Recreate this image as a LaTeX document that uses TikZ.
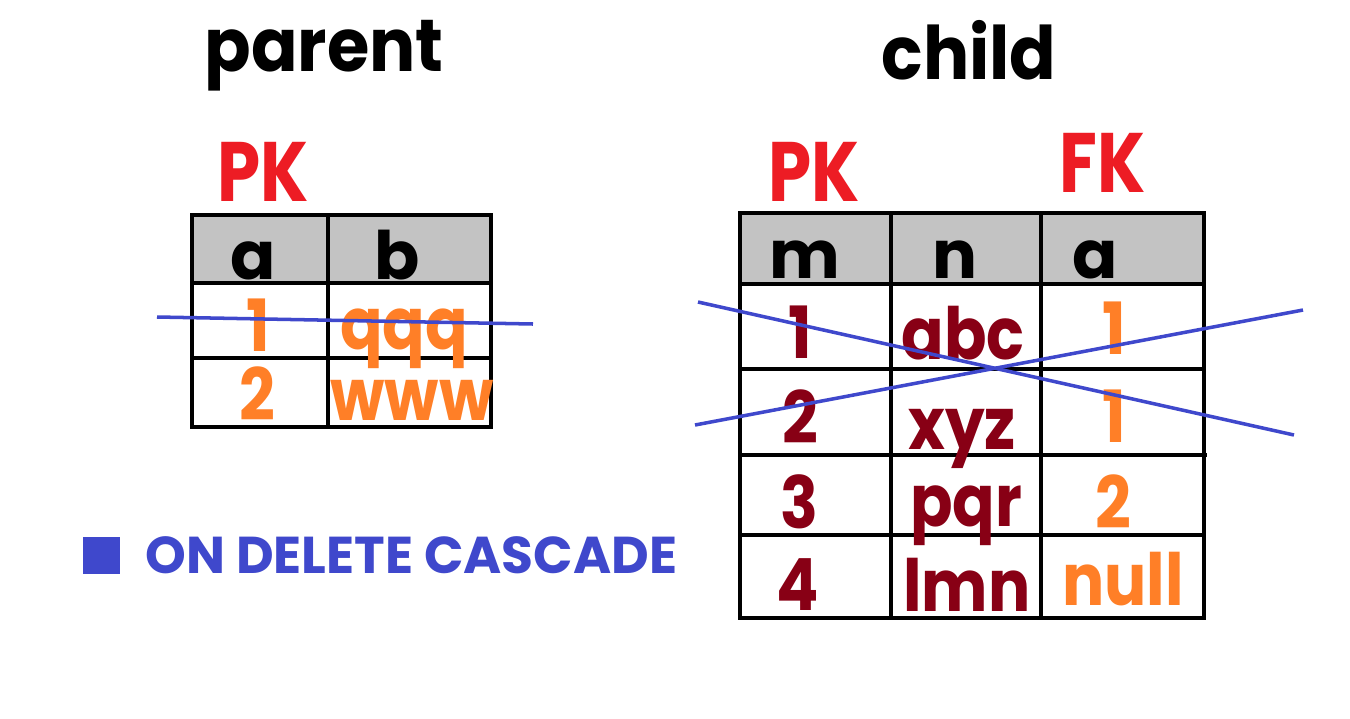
\documentclass[tikz,border=0pt]{standalone}
\usepackage{fontspec}
\setmainfont{Poppins}
\usepackage{xcolor}
\usepackage{tikz}
\definecolor{keyred}{HTML}{ED1C24}
\definecolor{valorange}{HTML}{FF7F27}
\definecolor{valdark}{HTML}{880015}
\definecolor{cascblue}{HTML}{3F48CC}
\definecolor{headgray}{HTML}{C3C3C3}

\begin{document}
\begin{tikzpicture}[x=0.02cm,y=-0.02cm,
  title/.style={anchor=base,inner sep=0pt,xscale=0.93,font=\fontsize{42}{48}\selectfont\bfseries},
  keylabel/.style={anchor=base,inner sep=0pt,xscale=0.82,text=keyred,font=\fontsize{48}{54}\selectfont\bfseries},
  colname/.style={anchor=base,inner sep=0pt,font=\fontsize{38}{44}\selectfont\bfseries},
  val/.style={anchor=base,inner sep=0pt,xscale=0.87,font=\fontsize{41}{46}\selectfont\bfseries},
  gridline/.style={line width=2.3pt},
  strike/.style={draw=cascblue,line width=2pt}]
\useasboundingbox[fill=white] (0,0) rectangle (1350,718);

% Titles
\node[title] (tparent) at (324,71) {parent};
\node[title] (tchild) at (969,79) {child};

% Key labels
\node[keylabel] (pkP) at (263,201) {PK};
\node[keylabel] (pkC) at (814,201) {PK};
\node[keylabel] (fkC) at (1103,192) {FK};

% Parent table
\fill[headgray] (192,215) rectangle (491,283);
\draw[gridline] (192,215) rectangle (491,427);
\draw[gridline] (192,283) -- (491,283);
\draw[gridline] (192,358) -- (491,358);
\draw[gridline] (328,215) -- (328,427);

\node[colname] (pa) at (253,279) {a};
\node[colname] (pb) at (397,279) {b};
\node[val,text=valorange] (p1a) at (258,351) {1};
\node[val,text=valorange] (p1b) at (404,349) {qqq};
\node[val,text=valorange] (p2a) at (257,420) {2};
\node[val,text=valorange] (p2b) at (412,420) {www};

% Child table
\fill[headgray] (740,213) rectangle (1204,284);
\draw[gridline] (740,213) rectangle (1204,618);
\draw[gridline] (740,284) -- (1204,284);
\draw[gridline] (740,369) -- (1204,369);
\draw[gridline] (740,455) -- (1207,455);
\draw[gridline] (740,535) -- (1204,535);
\draw[gridline] (891,213) -- (891,618);
\draw[gridline] (1041,213) -- (1041,618);

\node[colname] (cm) at (805,278) {m};
\node[colname] (cn) at (955,278) {n};
\node[colname] (ca) at (1095,278) {a};

\node[val,text=valdark] (c1m) at (800,358) {1};
\node[val,text=valdark] (c1n) at (963,359) {abc};
\node[val,text=valorange] (c1a) at (1114,354) {1};
\node[val,text=valdark] (c2m) at (800,443) {2};
\node[val,text=valdark] (c2n) at (962,449) {xyz};
\node[val,text=valorange] (c2a) at (1114,442) {1};
\node[val,text=valdark] (c3m) at (799,528) {3};
\node[val,text=valdark] (c3n) at (966,526) {pqr};
\node[val,text=valorange] (c3a) at (1113,528) {2};
\node[val,text=valdark] (c4m) at (798,610) {4};
\node[val,text=valdark] (c4n) at (967,611) {lmn};
\node[val,text=valorange] (c4a) at (1123,605) {null};

% Deleted rows
\coordinate (sp1) at (157,317);
\coordinate (sp2) at (533,324);
\coordinate (sc1) at (698,302);
\coordinate (sc2) at (1294,435);
\coordinate (sc3) at (695,425);
\coordinate (sc4) at (1303,310);
\draw[strike] (sp1) -- (sp2);
\draw[strike] (sc1) -- (sc2);
\draw[strike] (sc3) -- (sc4);

% Legend
\node[fill=cascblue,minimum size=37*0.02cm,inner sep=0pt] (lbox) at (101,555) {};
\node[anchor=base west,inner sep=0pt,text=cascblue,font=\fontsize{29.5}{34}\selectfont\bfseries] (ltext) at (145,573) {ON DELETE CASCADE};
\end{tikzpicture}
\end{document}
